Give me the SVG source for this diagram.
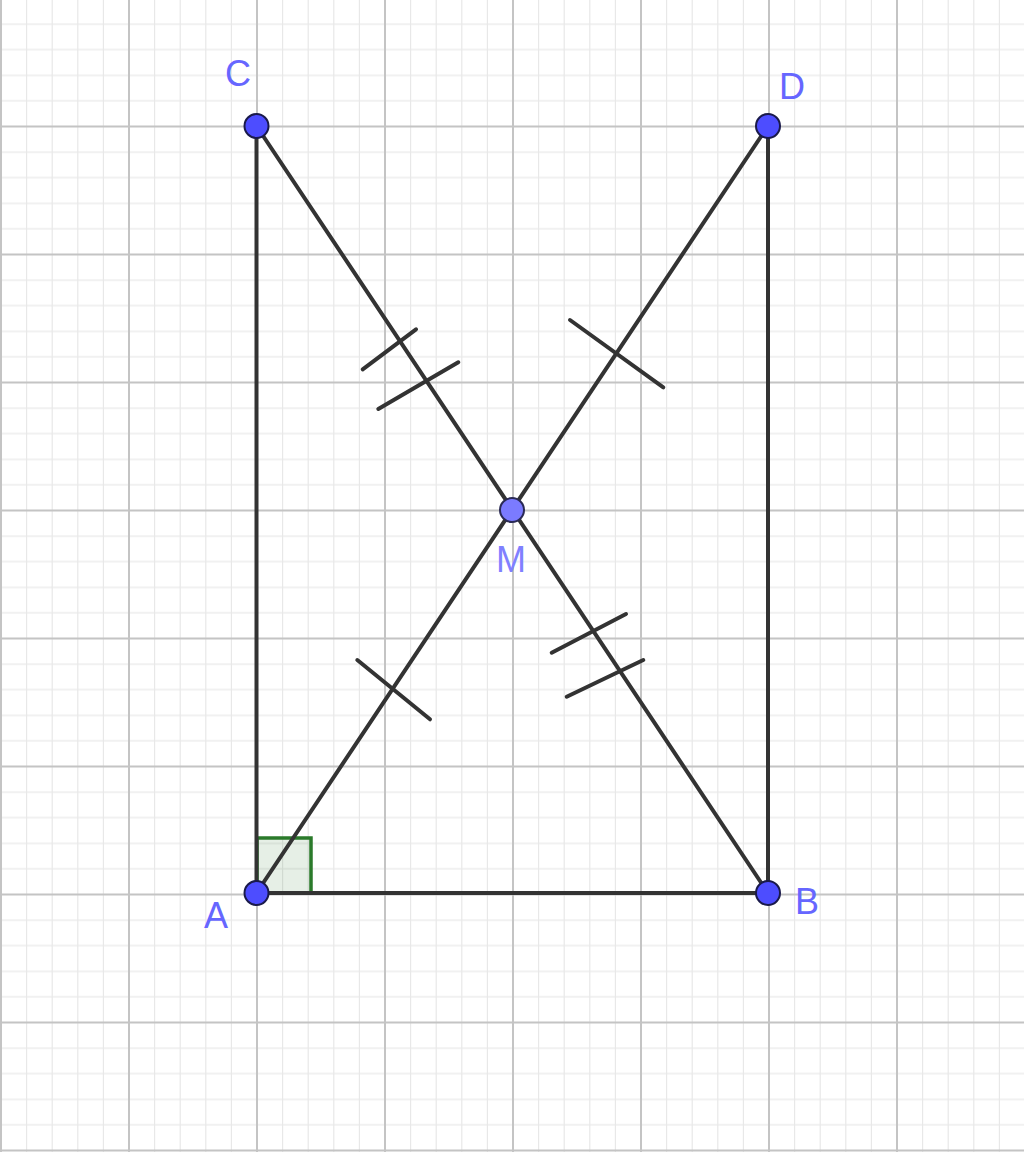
<svg xmlns="http://www.w3.org/2000/svg" width="1024" height="1152" viewBox="0 0 1024 1152">
<style>
.minor{stroke:#e8e8e8;stroke-width:1.2}
.major{stroke:#c4c4c4;stroke-width:2}
.seg{stroke:#333;stroke-width:4;stroke-linecap:round;fill:none}
.tick{stroke:#333;stroke-width:4;stroke-linecap:round}
.pt{fill:#4d4dff;stroke:#1a1a4a;stroke-width:2}
.ptm{fill:#7b7bff;stroke:#2a2a55;stroke-width:2}
.lbl{font-family:"Liberation Sans",Arial,sans-serif;font-size:36px;fill:#6666ff}
.lblm{font-family:"Liberation Sans",Arial,sans-serif;font-size:36px;fill:#8080ff}
</style>
<defs>
<pattern id="grid" patternUnits="userSpaceOnUse" x="1" y="126.5" width="128" height="128">
<line class="minor" x1="25.6" y1="0" x2="25.6" y2="128"/>
<line class="minor" x1="51.2" y1="0" x2="51.2" y2="128"/>
<line class="minor" x1="76.8" y1="0" x2="76.8" y2="128"/>
<line class="minor" x1="102.4" y1="0" x2="102.4" y2="128"/>
<line class="minor" x1="0" y1="25.6" x2="128" y2="25.6"/>
<line class="minor" x1="0" y1="51.2" x2="128" y2="51.2"/>
<line class="minor" x1="0" y1="76.8" x2="128" y2="76.8"/>
<line class="minor" x1="0" y1="102.4" x2="128" y2="102.4"/>
</pattern>
</defs>
<rect width="1024" height="1152" fill="#fff"/>
<rect width="1024" height="1152" fill="url(#grid)"/>
<g id="major-grid" class="major">
<line x1="1" y1="0" x2="1" y2="1152"/>
<line x1="129" y1="0" x2="129" y2="1152"/>
<line x1="257" y1="0" x2="257" y2="1152"/>
<line x1="385" y1="0" x2="385" y2="1152"/>
<line x1="513" y1="0" x2="513" y2="1152"/>
<line x1="641" y1="0" x2="641" y2="1152"/>
<line x1="769" y1="0" x2="769" y2="1152"/>
<line x1="897" y1="0" x2="897" y2="1152"/>
<line x1="0" y1="126.5" x2="1024" y2="126.5"/>
<line x1="0" y1="254.5" x2="1024" y2="254.5"/>
<line x1="0" y1="382.5" x2="1024" y2="382.5"/>
<line x1="0" y1="510.5" x2="1024" y2="510.5"/>
<line x1="0" y1="638.5" x2="1024" y2="638.5"/>
<line x1="0" y1="766.5" x2="1024" y2="766.5"/>
<line x1="0" y1="894.5" x2="1024" y2="894.5"/>
<line x1="0" y1="1022.5" x2="1024" y2="1022.5"/>
<line x1="0" y1="1150.5" x2="1024" y2="1150.5"/>
</g>

<g id="right-angle">
<rect x="257" y="838" width="54" height="55" fill="#2e7d32" fill-opacity="0.12" stroke="#2a7a2a" stroke-width="3.5"/>
</g>

<g id="connectors">
<line class="seg" x1="256.5" y1="126" x2="256.5" y2="893"/>
<line class="seg" x1="768" y1="126" x2="768" y2="893"/>
<line class="seg" x1="256.5" y1="893" x2="768" y2="893"/>
<line class="seg" x1="256.5" y1="126" x2="768" y2="893"/>
<line class="seg" x1="768" y1="126" x2="256.5" y2="893"/>
<line class="tick" x1="362.7" y1="369.3" x2="416" y2="329.3"/>
<line class="tick" x1="378.3" y1="409" x2="458.3" y2="362.3"/>
<line class="tick" x1="570" y1="320" x2="663.3" y2="387.3"/>
<line class="tick" x1="357.3" y1="660" x2="430" y2="719.3"/>
<line class="tick" x1="551.7" y1="652.7" x2="626" y2="614"/>
<line class="tick" x1="566.7" y1="696.7" x2="643.3" y2="660"/>
</g>

<g id="node-C"><circle class="pt" cx="256.5" cy="126" r="12"/><text class="lbl" x="238" y="86" text-anchor="middle">C</text></g>
<g id="node-D"><circle class="pt" cx="768" cy="126" r="12"/><text class="lbl" x="792" y="99" text-anchor="middle">D</text></g>
<g id="node-A"><circle class="pt" cx="256.5" cy="893" r="12"/><text class="lbl" x="216" y="928" text-anchor="middle">A</text></g>
<g id="node-B"><circle class="pt" cx="768" cy="893" r="12"/><text class="lbl" x="807" y="914" text-anchor="middle">B</text></g>
<g id="node-M"><circle class="ptm" cx="512" cy="510" r="12"/><text class="lblm" x="511" y="572" text-anchor="middle">M</text></g>
</svg>
